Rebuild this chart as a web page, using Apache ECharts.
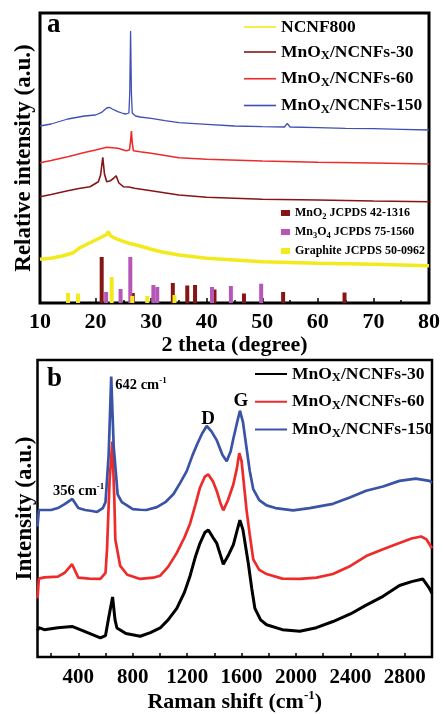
<!DOCTYPE html>
<html><head><meta charset="utf-8">
<script src="https://cdn.jsdelivr.net/npm/echarts@6.0.0/dist/echarts.min.js"></script>
<style>html,body{margin:0;padding:0;background:#fff}#c{width:443px;height:714px}</style>
</head><body><div id="c"></div>
<script>
const FONT = "'Liberation Serif','Times New Roman',serif";

// ---------- Panel a : XRD (2 theta, degree / relative intensity, a.u.) ----------
const xrdNCNF800 = [[10,43.7],[12,44.7],[14,47],[16,50.3],[17,54.7],[19,60.3],[21,65.7],[22,68.5],[22.3,71.3],[22.7,67],[24,63.7],[26,59.7],[28,57],[30,53.7],[32,51],[35,48],[40,44.7],[45,43],[50,41.3],[60,39.7],[70,38.7],[80,37.3]];
const xrdMn30 = [[10,106.3],[12,108.5],[15,112.3],[17,114.5],[19,116.3],[20.5,121.3],[20.9,128],[21.3,145.7],[21.6,129],[22.0,121.3],[22.7,122.3],[23.2,124.5],[23.7,127.3],[24.2,120],[25,116.3],[26,116],[27,114.7],[30,112.3],[35,108],[40,105.7],[50,103.7],[60,103],[70,102],[80,101.3]];
const xrdMn60 = [[10,140.3],[12,142.5],[15,146.3],[18,150.5],[20,153],[22,155.7],[24,154.7],[25.5,152.3],[26.1,153],[26.3,162],[26.45,172],[26.6,160],[26.8,152.3],[28,151.3],[30,149.7],[32.5,147.5],[35,145.3],[40,143.7],[50,142],[60,140.7],[70,140],[80,139]];
const xrdMn150 = [[10,177],[12,179],[15,184],[18,187],[20,188],[21,190.3],[22,195],[22.5,195.7],[23,194],[24,191.3],[25,189.5],[25.5,189],[26.0,190],[26.15,210],[26.3,272],[26.45,210],[26.6,190],[27.2,187],[28,186],[30,184.7],[32.5,182.3],[35,180.3],[40,178.7],[45,177],[50,176.3],[54,176],[54.5,179.7],[55,176],[60,175.3],[65,174.7],[70,174.3],[75,173.7],[80,173]];
const refMnO2 = [[21.1,46],[26.7,10],[33.9,20],[36.5,17.5],[37.9,18],[41.4,13.5],[46.7,9.5],[53.75,11],[64.8,10.5]];
const refMn3O4 = [[21.9,11],[24.5,14],[26.25,46],[30.4,18],[31.1,16],[40.95,16],[44.35,17],[49.8,19.3]];
const refGraphite = [[15.05,10],[16.85,9.5],[22.9,26],[26.6,7],[29.3,7],[34.2,8]];

// ---------- Panel b : Raman (Raman shift, cm-1 / intensity, a.u.) ----------
const raman30 = [[100,27],[110,30],[150,28],[250,30],[354,31.3],[450,26],[562,19.7],[600,22],[623,40],[652,61.3],[670,38],[684,29.7],[750,24],[855,21.3],[930,25],[1002,29.7],[1060,38],[1124,49.7],[1180,66],[1222,83],[1260,102],[1295,116.3],[1330,127],[1356,129.7],[1390,122],[1417,116.3],[1445,104],[1466,94.7],[1500,103],[1540,114.7],[1565,128],[1588,139.7],[1610,130],[1649,96.3],[1675,70],[1698,49.7],[1740,38],[1784,33],[1900,28],[2028,26.3],[2150,30],[2272,36.3],[2400,44],[2516,53],[2640,62],[2761,73],[2850,77],[2932,79.7],[2981,70],[3000,65]];
const raman60 = [[100,60],[110,80],[150,81.3],[250,82],[300,86],[354,94.7],[400,81],[480,80],[562,79.7],[600,86],[611,109.7],[630,180],[650,219.7],[665,160],[672,120],[708,93],[760,84],[855,79.7],[950,81],[1002,83],[1060,92],[1124,106.3],[1180,122],[1222,136.3],[1260,155],[1295,173],[1330,184],[1356,186.3],[1390,179],[1417,169.7],[1445,157],[1466,149.7],[1500,160],[1540,176.3],[1565,192],[1583,208],[1600,200],[1637,149.7],[1660,125],[1686,99.7],[1730,89],[1784,84.7],[1900,80],[2028,79.7],[2150,81],[2272,84.7],[2400,93],[2516,103],[2640,110],[2761,116.3],[2850,121],[2920,123],[2960,120],[3000,111]];
const raman150 = [[100,133],[110,150],[150,150],[200,150],[250,152],[300,156],[356,161.3],[400,152],[450,150],[500,149],[538,148],[580,152],[600,158],[623,206],[642,286],[660,215],[675,190],[689,166],[720,158],[758,154.7],[800,151],[855,150.3],[900,150],[978,153],[1040,158],[1100,166.3],[1150,178],[1197,189.7],[1240,206],[1271,216.3],[1310,228],[1344,235.7],[1380,230],[1417,221.3],[1460,206],[1491,199.7],[1520,210],[1540,223],[1565,238],[1588,251.3],[1610,240],[1637,213],[1660,190],[1686,171.3],[1730,160],[1784,154.7],[1850,152],[1979,149.7],[2100,152],[2272,156.3],[2400,163],[2516,169.7],[2640,174],[2761,179.7],[2880,182],[2981,179.7],[3000,178]];
const ramanTicks = [200,400,600,800,1000,1200,1400,1600,1800,2000,2200,2400,2600,2800];
const ramanLabels = [400,800,1200,1600,2000,2400,2800];

const rich = (big, small) => ({
  n: {fontFamily: FONT, fontWeight: 'bold', fontSize: big, color: '#000', lineHeight: big + 4},
  s: {fontFamily: FONT, fontWeight: 'bold', fontSize: small, color: '#000', lineHeight: 8, verticalAlign: 'bottom'},
  p: {fontFamily: FONT, fontWeight: 'bold', fontSize: small, color: '#000', lineHeight: 8, verticalAlign: 'top'}
});

const legendText = {
  ncnf: '{n|NCNF800}',
  a30: '{n|MnO}{s|X}{n|/NCNFs-30}',
  a60: '{n|MnO}{s|X}{n|/NCNFs-60}',
  a150: '{n|MnO}{s|X}{n|/NCNFs-150}',
  b30: '{n|MnO}{s|X}{n|/NCNFs-30}',
  b60: '{n|MnO}{s|X}{n|/NCNFs-60}',
  b150: '{n|MnO}{s|X}{n|/NCNFs-150}',
  mno2: '{n|MnO}{s|2}{n| JCPDS 42-1316}',
  mn3o4: '{n|Mn}{s|3}{n|O}{s|4}{n| JCPDS 75-1560}',
  gr: '{n|Graphite JCPDS 50-0962}'
};

const C = {yellow: '#f2ea1c', dark: '#861516', red: '#ee2b2b', blueA: '#3f4fb3', purple: '#b657b8',
  black: '#000', blueB: '#3a53a6'};

const chart = echarts.init(document.getElementById('c'), null, {renderer: 'canvas'});

const line = (name, data, color, width, xi, extra) => Object.assign({
  name, type: 'line', data, xAxisIndex: xi, yAxisIndex: xi, showSymbol: false, symbol: 'none',
  lineStyle: {color, width}, itemStyle: {color}, animation: false, z: 3
}, extra || {});
const bar = (name, data, color) => ({
  name, type: 'bar', data, xAxisIndex: 0, yAxisIndex: 0, barWidth: 4, barGap: '-100%',
  itemStyle: {color}, animation: false, z: 2
});

const mk = (coord, text, pos, size) => ({
  coord, symbol: 'circle', symbolSize: 1, itemStyle: {color: 'rgba(0,0,0,0)'},
  label: {show: true, position: pos, distance: 0, formatter: text, rich: rich(size, size * 0.62)}
});

chart.setOption({
  animation: false,
  grid: [
    {left: 40, top: 13, right: 11, height: 290, show: true, borderColor: '#000', borderWidth: 3, backgroundColor: 'transparent'},
    {left: 37.5, top: 360, right: 11, height: 303, show: true, borderColor: '#000', borderWidth: 2.5, backgroundColor: 'transparent'}
  ],
  xAxis: [
    {type: 'value', gridIndex: 0, min: 10, max: 80, interval: 10,
     axisLine: {show: false}, splitLine: {show: false},
     axisTick: {show: true, inside: true, length: 5, lineStyle: {color: '#000', width: 1.5}},
     minorTick: {show: true, splitNumber: 2, length: 3, lineStyle: {color: '#000', width: 1.5}},
     axisLabel: {color: '#000', fontFamily: FONT, fontWeight: 'bold', fontSize: 22, margin: 8},
     name: '2 theta (degree)', nameLocation: 'middle', nameGap: 25,
     nameTextStyle: {color: '#000', fontFamily: FONT, fontWeight: 'bold', fontSize: 22}},
    {type: 'value', gridIndex: 1, min: 100, max: 3000,
     axisLine: {show: false}, splitLine: {show: false},
     axisTick: {show: true, inside: true, length: 4, customValues: ramanTicks, lineStyle: {color: '#000', width: 1.5}},
     axisLabel: {color: '#000', fontFamily: FONT, fontWeight: 'bold', fontSize: 21, margin: 10,
                 customValues: ramanLabels, formatter: v => String(v)},
     name: '{n|Raman shift (cm}{p|-1}{n|)}', nameLocation: 'middle', nameGap: 31,
     nameTextStyle: {rich: rich(22, 13)}}
  ],
  yAxis: [
    {type: 'value', gridIndex: 0, min: 0, max: 290, axisLine: {show: false}, axisTick: {show: false},
     axisLabel: {show: false}, splitLine: {show: false},
     name: 'Relative intensity (a.u.)', nameLocation: 'middle', nameGap: 4,
     nameTextStyle: {color: '#000', fontFamily: FONT, fontWeight: 'bold', fontSize: 23}},
    {type: 'value', gridIndex: 1, min: 0, max: 303, axisLine: {show: false}, axisTick: {show: false},
     axisLabel: {show: false}, splitLine: {show: false},
     name: 'Intensity (a.u.)', nameLocation: 'middle', nameGap: 1,
     nameTextStyle: {color: '#000', fontFamily: FONT, fontWeight: 'bold', fontSize: 23}}
  ],
  legend: [
    {data: ['ncnf', 'a30', 'a60', 'a150'], orient: 'vertical', left: 239, top: 13, itemWidth: 32, itemHeight: 1.6,
     icon: 'rect', itemGap: 7, selectedMode: false, formatter: n => legendText[n], textStyle: {rich: rich(17.5, 12.5)}},
    {data: ['mno2', 'mn3o4', 'gr'], orient: 'vertical', left: 276, top: 202, itemWidth: 9, itemHeight: 6,
     itemGap: 5, icon: 'rect', selectedMode: false, formatter: n => legendText[n], textStyle: {rich: rich(12, 8.5)}},
    {data: ['b30', 'b60', 'b150'], orient: 'vertical', left: 250, top: 360, itemWidth: 32, itemHeight: 2,
     icon: 'rect', itemGap: 8, selectedMode: false, formatter: n => legendText[n], textStyle: {rich: rich(17.5, 12.5)}}
  ],
  graphic: [
    {type: 'text', left: 47, top: 12, style: {text: 'a', fontFamily: FONT, fontWeight: 'bold', fontSize: 27, fill: '#000'}},
    {type: 'text', left: 47, top: 366, style: {text: 'b', fontFamily: FONT, fontWeight: 'bold', fontSize: 27, fill: '#000'}}
  ],
  series: [
    bar('mno2', refMnO2, C.dark),
    bar('mn3o4', refMn3O4, C.purple),
    bar('gr', refGraphite, C.yellow),
    line('ncnf', xrdNCNF800, C.yellow, 3.5, 0),
    line('a30', xrdMn30, C.dark, 1.6, 0),
    line('a60', xrdMn60, C.red, 1.6, 0),
    line('a150', xrdMn150, C.blueA, 1.3, 0),
    line('b30', raman30, C.black, 3, 1),
    line('b60', raman60, C.red, 2.7, 1),
    line('b150', raman150, C.blueB, 2.7, 1, {
      markPoint: {silent: true, data: [
        mk([668, 277], '{n|642 cm}{p|-1}', 'right', 14.5),
        mk([210, 169], '{n|356 cm}{p|-1}', 'right', 14.5),
        mk([1354, 243], '{n|D}', 'inside', 19),
        mk([1596, 261], '{n|G}', 'inside', 19)
      ]}
    })
  ]
});
</script></body></html>
